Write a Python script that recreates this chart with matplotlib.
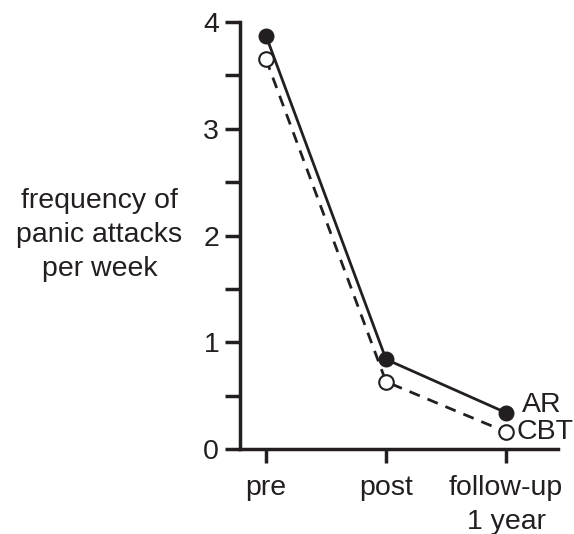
import numpy as np
import matplotlib.pyplot as plt

plt.rcParams['font.family'] = ['Liberation Sans', 'DejaVu Sans']

timepoints = ['pre', 'post', 'follow-up\n1 year']
ar = [3.87, 0.84, 0.34]
cbt = [3.65, 0.63, 0.16]

x = np.arange(len(timepoints))
ink = '#231f20'
fs = 20.5

fig = plt.figure(figsize=(5.74, 5.34), dpi=100, facecolor='w')
ax = fig.add_axes([240/574, 85/534, 318/574, 427/534])

ax.plot(x, ar, '-', color=ink, lw=2, marker='o', ms=10.5,
        mfc=ink, mec=ink, clip_on=False, zorder=3)
ax.plot(x, cbt, '--', color=ink, lw=2, dashes=(4, 3), marker='o', ms=10.5,
        mfc='white', mec=ink, mew=1.5, clip_on=False, zorder=3)

ax.text(x[-1] + 0.13, ar[-1] + 0.07, 'AR', fontsize=fs, va='center', ha='left', color=ink)
ax.text(x[-1] + 0.09, cbt[-1], 'CBT', fontsize=fs, va='center', ha='left', color=ink)

ax.set_xlim(-0.217, 2.433)
ax.set_ylim(0, 4)
ax.set_xticks(x)
ax.set_xticklabels(timepoints, fontsize=fs, color=ink, linespacing=1.4)
ax.set_yticks([0, 1, 2, 3, 4])
ax.set_yticks([0.5, 1.5, 2.5, 3.5], minor=True)
ax.tick_params(axis='y', which='both', direction='out', length=11, width=2.5,
               labelsize=fs, colors=ink, pad=4)
ax.tick_params(axis='x', direction='out', length=10, width=2.5, labelsize=fs,
               colors=ink, pad=9)

for s in ('top', 'right'):
    ax.spines[s].set_visible(False)
for s in ('left', 'bottom'):
    ax.spines[s].set_linewidth(2.5)
    ax.spines[s].set_color(ink)

ax.set_ylabel('frequency of\npanic attacks\nper week', rotation=0, fontsize=fs,
              color=ink, ha='center', va='center', linespacing=1.4)
ax.yaxis.set_label_coords(-0.442, 0.5)

plt.savefig('out.png', dpi=100)
